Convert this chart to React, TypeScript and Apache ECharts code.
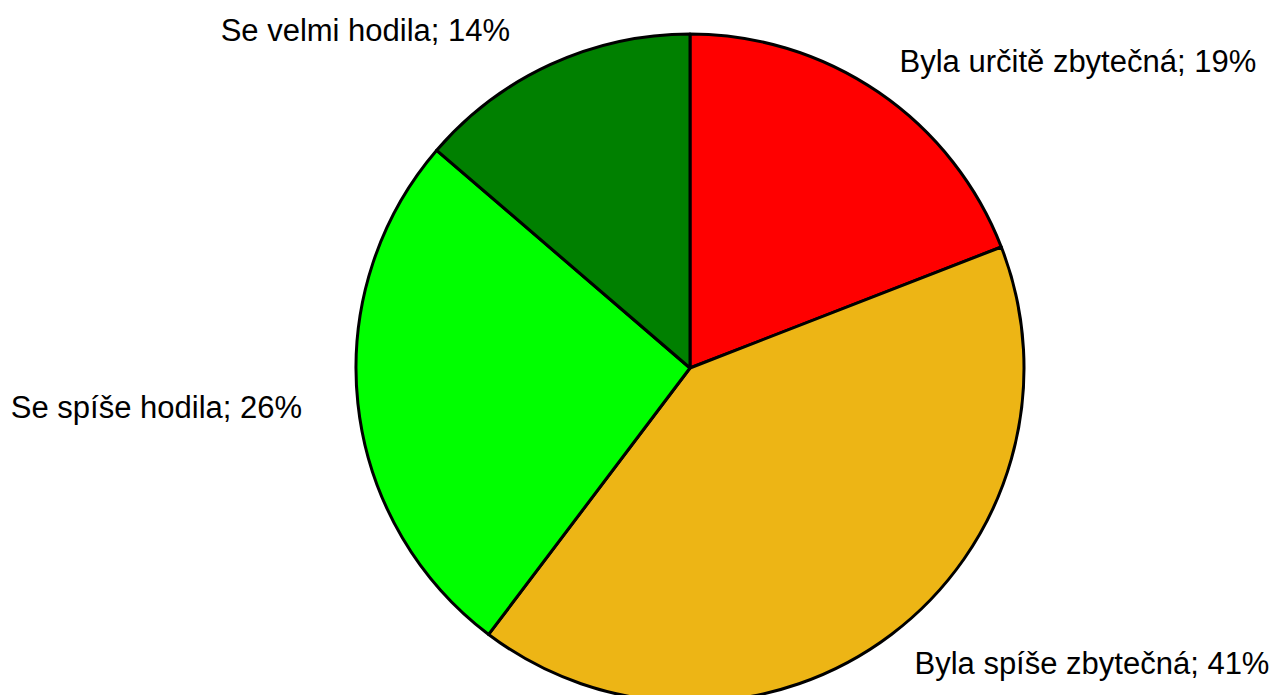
import React, { useEffect, useRef } from "react";
import * as echarts from "echarts";

const categories = [
  "Byla určitě zbytečná",
  "Byla spíše zbytečná",
  "Se spíše hodila",
  "Se velmi hodila",
];
const values = [19.1, 41.2, 26.0, 13.7];
const colors = ["#FF0000", "#EDB515", "#00FF00", "#008000"];

// fine label nudges (layout only)
const LABEL_NUDGE: [number, number][] = [
  [-6, -6],
  [-5, 5],
  [-16, 1],
  [-18, -7],
];

export default function App() {
  const ref = useRef<HTMLDivElement>(null);
  useEffect(() => {
    if (!ref.current) return;
    const chart = echarts.init(ref.current, undefined, { renderer: "svg" });
    chart.setOption({
      animation: false,
      backgroundColor: "#ffffff",
      series: [
        {
          type: "pie",
          center: [690, 368],
          radius: 334,
          startAngle: 90,
          clockwise: true,
          avoidLabelOverlap: false,
          data: categories.map((name, i) => ({
            name,
            value: values[i],
            itemStyle: { color: colors[i] },
          })),
          itemStyle: { borderColor: "#000000", borderWidth: 3 },
          label: {
            show: true,
            position: "outside",
            formatter: (p: any) => `${p.name}; ${Math.round(p.percent)}%`,
            fontFamily: "Liberation Sans, Arial, sans-serif",
            fontSize: 31,
            color: "#000000",
          },
          labelLine: { show: false, length: 30, length2: 5 },
          labelLayout: (p: any) => ({
            dx: LABEL_NUDGE[p.dataIndex][0],
            dy: LABEL_NUDGE[p.dataIndex][1],
          }),
          emphasis: { disabled: true },
        },
      ],
    });
    return () => chart.dispose();
  }, []);
  return (
    <div
      ref={ref}
      style={{ position: "fixed", left: 0, top: 0, width: 1275, height: 695 }}
    />
  );
}
